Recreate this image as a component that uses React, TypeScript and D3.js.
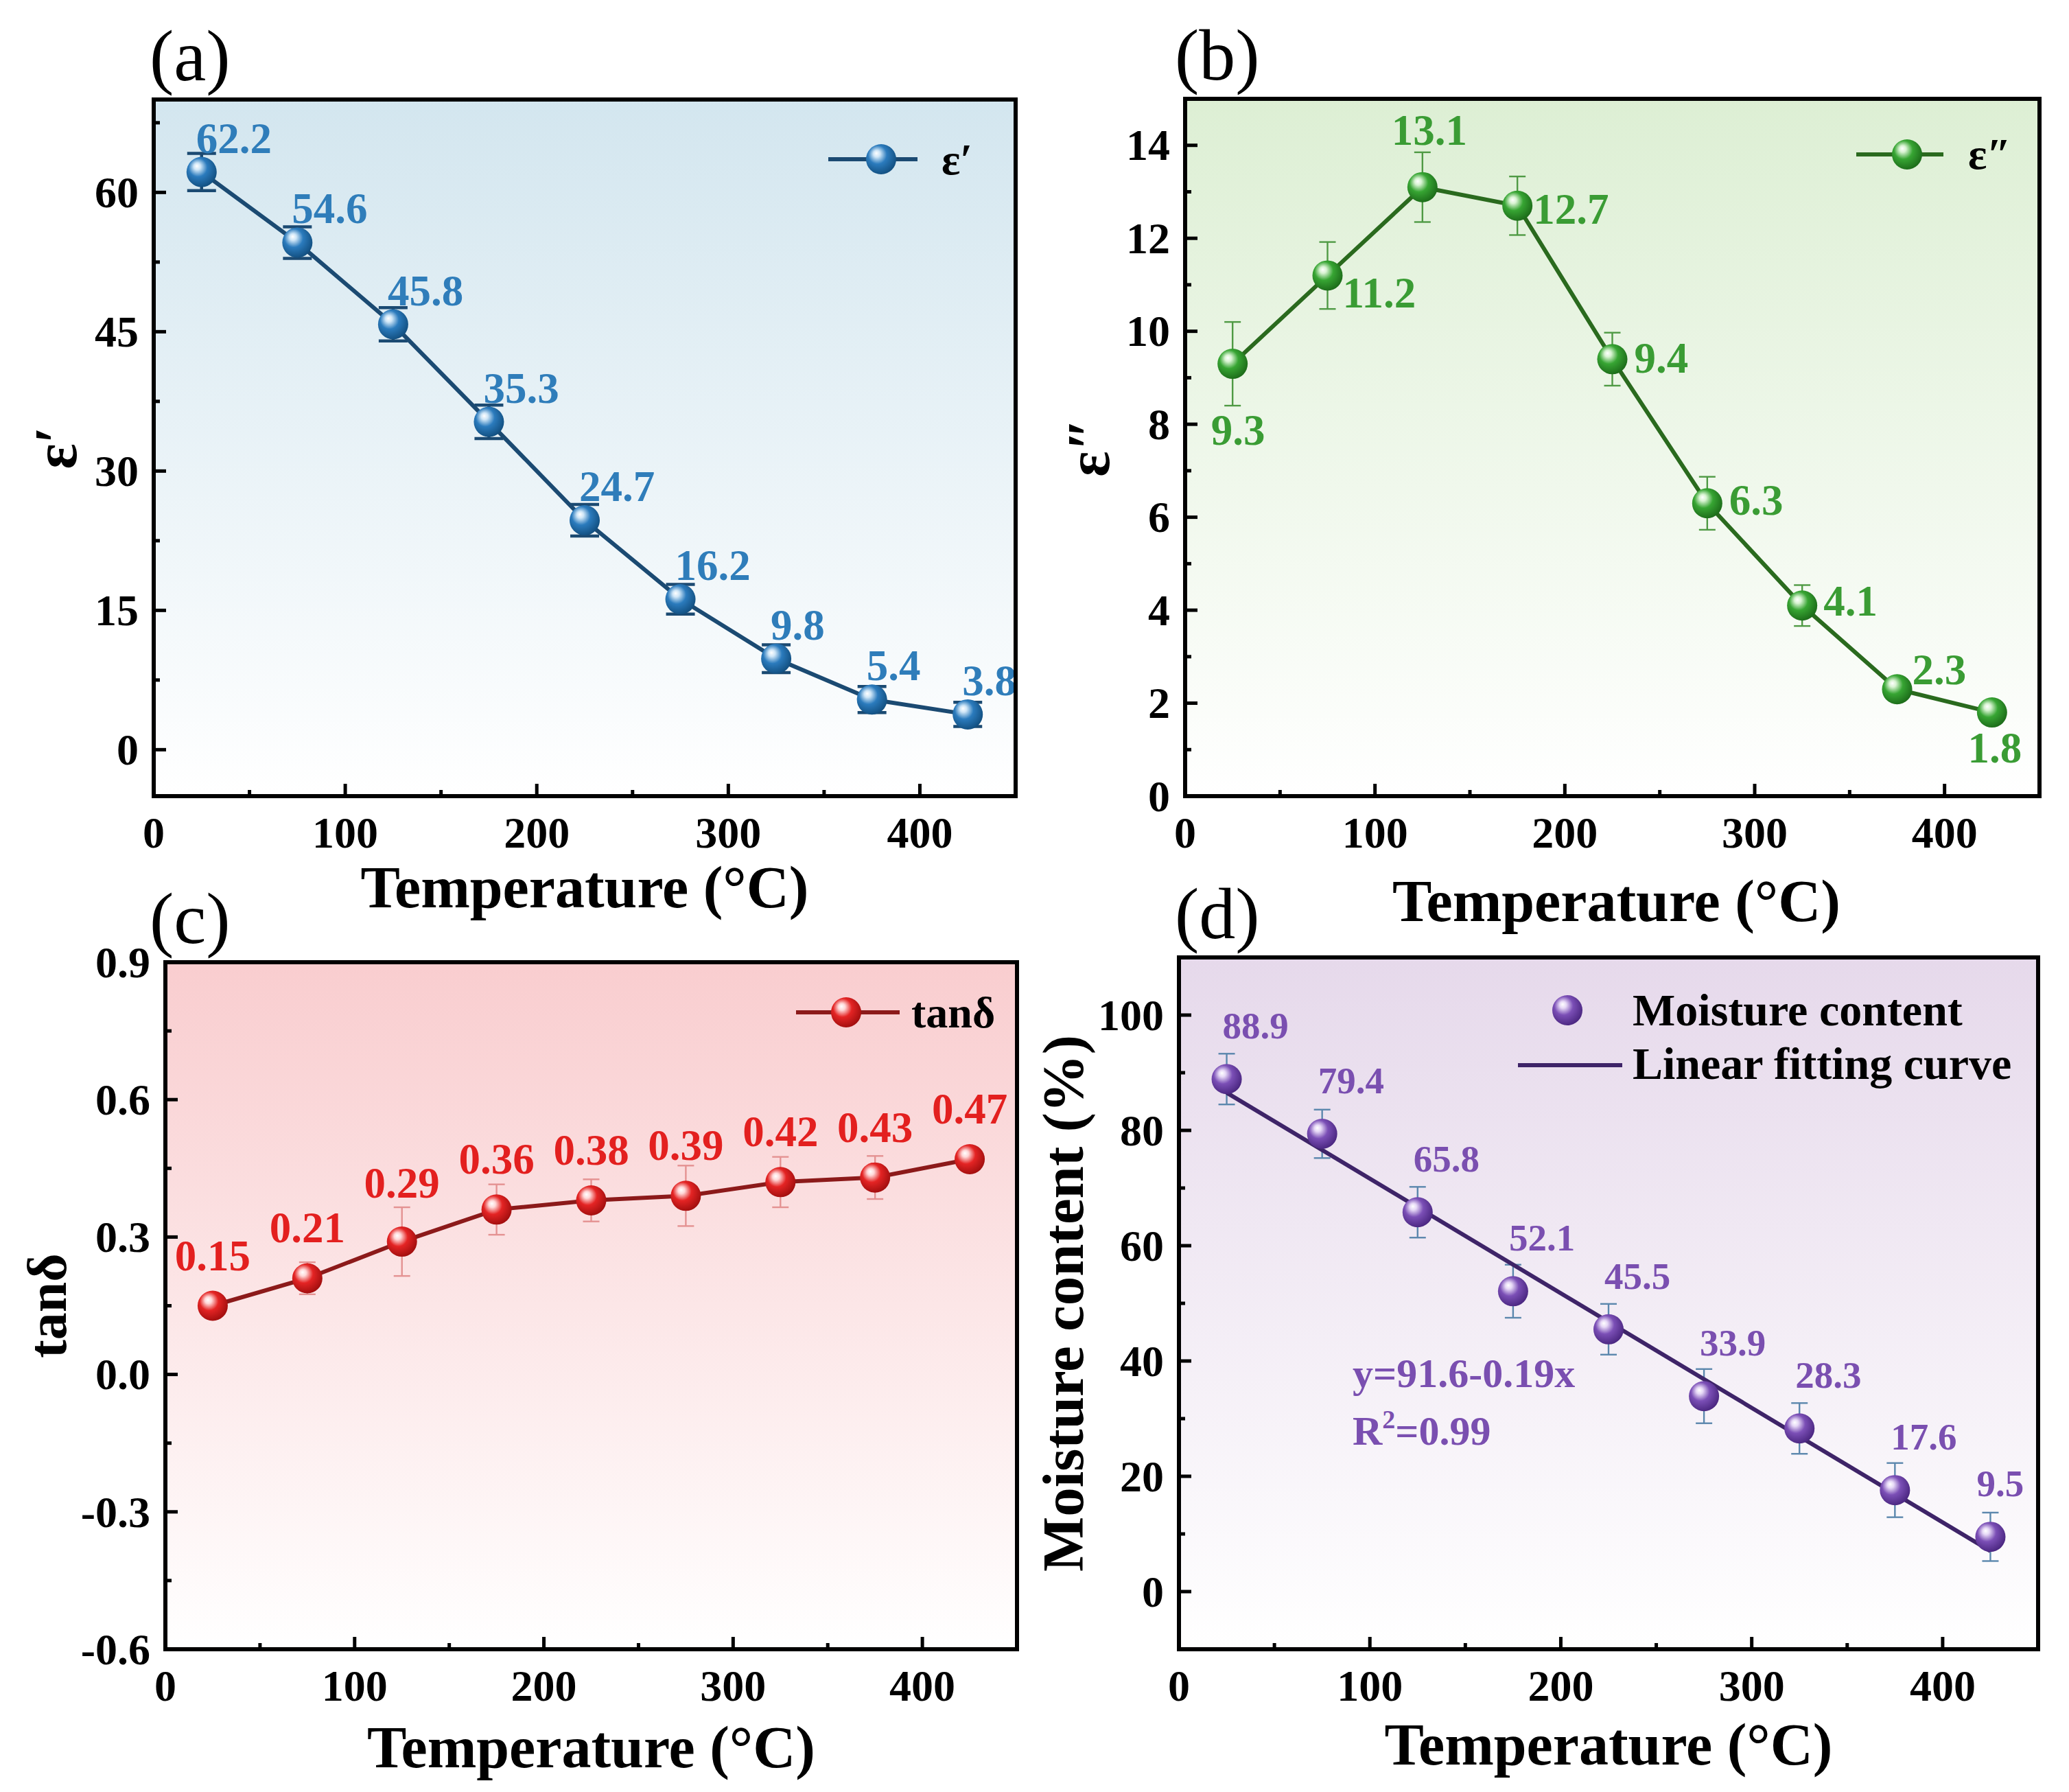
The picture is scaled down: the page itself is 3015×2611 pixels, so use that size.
import React, { useEffect, useRef } from "react";
import * as d3 from "d3";

// ---- data ----
const temperature = [25, 75, 125, 175, 225, 275, 325, 375, 425];

const epsReal = [62.2, 54.6, 45.8, 35.3, 24.7, 16.2, 9.8, 5.4, 3.8];
const epsRealErr = [2.0, 1.7, 1.8, 1.8, 1.7, 1.6, 1.5, 1.4, 1.3];

const epsImag = [9.3, 11.2, 13.1, 12.7, 9.4, 6.3, 4.1, 2.3, 1.8];
const epsImagErr = [0.9, 0.72, 0.75, 0.63, 0.57, 0.57, 0.44, 0.25, 0.15];

const tanDelta = [0.15, 0.21, 0.29, 0.36, 0.38, 0.39, 0.42, 0.43, 0.47];
const tanDeltaErr = [0.02, 0.035, 0.075, 0.055, 0.046, 0.066, 0.055, 0.047, 0.02];

const moisture = [88.9, 79.4, 65.8, 52.1, 45.5, 33.9, 28.3, 17.6, 9.5];
const moistureErr = [4.4, 4.2, 4.4, 4.6, 4.4, 4.7, 4.4, 4.7, 4.2];

const xTicks = [0, 100, 200, 300, 400];
const epsRealTicks = [0, 15, 30, 45, 60];
const epsImagTicks = [0, 2, 4, 6, 8, 10, 12, 14];
const tanDeltaTicks = [-0.6, -0.3, 0.0, 0.3, 0.6, 0.9];
const moistureTicks = [0, 20, 40, 60, 80, 100];

const W = 3015;
const H = 2611;
const FONT = "'Liberation Serif', 'Times New Roman', serif";
const DOT_R = 22;

interface Frame { left: number; top: number; right: number; bottom: number }

interface PanelSpec {
    key: string,
    tag: string,
    tagX: number,
    frame: Frame,
    yDomain: [number, number],
    yTicks: number[],
    yFormat: (v: number) => string,
    yTitle: string,
    yTitleX: number,
    yTitleSize: number,
    xTitleShift: number,
    xTitleDrop: number,
    values: number[],
    errors: number[],
    labels: string[],
    labelSize: number,
    labelPos: [number, number, string][],
    bgTop: string,
    dotLight: string,
    dotBase: string,
    dotDark: string,
    lineColor: string,
    labelColor: string,
    errColor: string,
    errWidth: number,
    capHalf: number,
    legend: { x0: number, x1: number, cx: number, y: number, tx: number, ty: number, text: string } | null,
    fit: boolean,
}

const fmt1 = (v: number) => v.toFixed(1);
const fmt0 = (v: number) => String(v);

const panels: PanelSpec[] = [
    {
        key: "a", tag: "(a)", tagX: 218,
        frame: { left: 224, top: 145, right: 1480, bottom: 1160 },
        yDomain: [-5, 70], yTicks: epsRealTicks, yFormat: fmt0,
        yTitle: "ε′", yTitleX: 80, yTitleSize: 88, xTitleShift: 0, xTitleDrop: 162,
        values: epsReal, errors: epsRealErr, labels: epsReal.map(fmt1), labelSize: 63,
        labelPos: epsReal.map(() => [-8, -28, "start"] as [number, number, string]),
        bgTop: "#d3e6ef", dotLight: "#cfe6f7", dotBase: "#2b7bbd", dotDark: "#124f80",
        lineColor: "#1b4a72", labelColor: "#2f7dba", errColor: "#1b4a72", errWidth: 4.5, capHalf: 21,
        legend: { x0: 1207, x1: 1337, cx: 1284, y: 232, tx: 1372, ty: 254, text: "ε′" },
        fit: false,
    },
    {
        key: "b", tag: "(b)", tagX: 1712,
        frame: { left: 1727, top: 144, right: 2972, bottom: 1160 },
        yDomain: [0, 15], yTicks: epsImagTicks, yFormat: fmt0,
        yTitle: "ε″", yTitleX: 1585, yTitleSize: 88, xTitleShift: 6, xTitleDrop: 182,
        values: epsImag, errors: epsImagErr, labels: epsImag.map(fmt1), labelSize: 63,
        labelPos: [[8, 118, "middle"], [22, 47, "start"], [10, -62, "middle"], [23, 26, "start"],
            [32, 20, "start"], [32, 17, "start"], [31, 15, "start"], [22, -7, "start"], [4, 73, "middle"]],
        bgTop: "#ddefd4", dotLight: "#d8f3d2", dotBase: "#37a533", dotDark: "#1c6b19",
        lineColor: "#2a6a1e", labelColor: "#3a9c34", errColor: "#4f9a44", errWidth: 2.4, capHalf: 12,
        legend: { x0: 2705, x1: 2832, cx: 2779, y: 225, tx: 2868, ty: 246, text: "ε″" },
        fit: false,
    },
    {
        key: "c", tag: "(c)", tagX: 218,
        frame: { left: 241, top: 1402, right: 1482, bottom: 2403 },
        yDomain: [-0.6, 0.9], yTicks: tanDeltaTicks, yFormat: fmt1,
        yTitle: "tanδ", yTitleX: 68, yTitleSize: 80, xTitleShift: 0, xTitleDrop: 172,
        values: tanDelta, errors: tanDeltaErr, labels: tanDelta.map((v) => v.toFixed(2)), labelSize: 63,
        labelPos: tanDelta.map((v, i) => [0, i === 2 ? -64 : -52, "middle"] as [number, number, string]),
        bgTop: "#f9cdcf", dotLight: "#ffd8d8", dotBase: "#e42424", dotDark: "#a10e0e",
        lineColor: "#8c1a1a", labelColor: "#e3201f", errColor: "#e49292", errWidth: 2.4, capHalf: 12,
        legend: { x0: 1160, x1: 1311, cx: 1233, y: 1475, tx: 1328, ty: 1497, text: "tanδ" },
        fit: false,
    },
    {
        key: "d", tag: "(d)", tagX: 1712,
        frame: { left: 1718, top: 1395, right: 2970, bottom: 2403 },
        yDomain: [-10, 110], yTicks: moistureTicks, yFormat: fmt0,
        yTitle: "Moisture content (%)", yTitleX: 1548, yTitleSize: 85, xTitleShift: 0, xTitleDrop: 168,
        values: moisture, errors: moistureErr, labels: moisture.map(fmt1), labelSize: 55,
        labelPos: moisture.map((v, i) => [i === 8 ? -20 : -6, -59, "start"] as [number, number, string]),
        bgTop: "#e6d9eb", dotLight: "#e6d8f6", dotBase: "#7b4fb6", dotDark: "#4a2680",
        lineColor: "#3e2468", labelColor: "#7a4fb0", errColor: "#5b87ad", errWidth: 2.4, capHalf: 12,
        legend: null,
        fit: true,
    },
];

function minorTicks(ticks: number[], domain: [number, number]) {
    const step = ticks[1] - ticks[0];
    const out: number[] = [];
    const lo = Math.min(domain[0], domain[1]), hi = Math.max(domain[0], domain[1]);
    for (let v = ticks[0] - step / 2; v <= hi + 1e-9; v += step) {
        if (v >= lo - 1e-9 && v <= hi + 1e-9) out.push(v);
    }
    return out;
}

function addSphere(defs: any, id: string, p: PanelSpec) {
    const g = defs.append("radialGradient").attr("id", id)
        .attr("cx", "0.42").attr("cy", "0.40").attr("r", "0.62")
        .attr("fx", "0.34").attr("fy", "0.30");
    g.append("stop").attr("offset", "0").attr("stop-color", "#ffffff");
    g.append("stop").attr("offset", "0.18").attr("stop-color", p.dotLight);
    g.append("stop").attr("offset", "0.5").attr("stop-color", p.dotBase);
    g.append("stop").attr("offset", "1").attr("stop-color", p.dotDark);
}

function drawPanel(svg: any, defs: any, p: PanelSpec) {
    const f = p.frame;
    const x = d3.scaleLinear().domain([0, 450]).range([f.left, f.right]);
    const y = d3.scaleLinear().domain(p.yDomain).range([f.bottom, f.top]);
    const g = svg.append("g").attr("class", "panel-" + p.key);

    // background gradient
    const bgId = "bg-" + p.key;
    const lg = defs.append("linearGradient").attr("id", bgId)
        .attr("x1", 0).attr("y1", 0).attr("x2", 0).attr("y2", 1);
    lg.append("stop").attr("offset", "0").attr("stop-color", p.bgTop);
    lg.append("stop").attr("offset", "1").attr("stop-color", "#ffffff");
    g.append("rect")
        .attr("x", f.left).attr("y", f.top)
        .attr("width", f.right - f.left).attr("height", f.bottom - f.top)
        .attr("fill", `url(#${bgId})`);

    const dotId = "dot-" + p.key;
    addSphere(defs, dotId, p);

    // ticks (inward, left + bottom only)
    const ticks = g.append("g").attr("stroke", "#000");
    xTicks.forEach((t) => {
        ticks.append("line").attr("x1", x(t)).attr("x2", x(t))
            .attr("y1", f.bottom).attr("y2", f.bottom - 18).attr("stroke-width", 5);
    });
    minorTicks(xTicks, [0, 450]).forEach((t) => {
        ticks.append("line").attr("x1", x(t)).attr("x2", x(t))
            .attr("y1", f.bottom).attr("y2", f.bottom - 9).attr("stroke-width", 5);
    });
    p.yTicks.forEach((t) => {
        ticks.append("line").attr("x1", f.left).attr("x2", f.left + 18)
            .attr("y1", y(t)).attr("y2", y(t)).attr("stroke-width", 5);
    });
    minorTicks(p.yTicks, p.yDomain).forEach((t) => {
        ticks.append("line").attr("x1", f.left).attr("x2", f.left + 9)
            .attr("y1", y(t)).attr("y2", y(t)).attr("stroke-width", 5);
    });

    // tick labels
    const tl = g.append("g").attr("font-family", FONT).attr("font-weight", "bold")
        .attr("font-size", 64).attr("fill", "#000");
    xTicks.forEach((t) => {
        tl.append("text").attr("x", x(t)).attr("y", f.bottom + 75)
            .attr("text-anchor", "middle").text(String(t));
    });
    p.yTicks.forEach((t) => {
        tl.append("text").attr("x", f.left - 22).attr("y", y(t))
            .attr("dy", "0.34em").attr("text-anchor", "end").text(p.yFormat(t));
    });

    // axis titles
    g.append("text")
        .attr("x", (f.left + f.right) / 2 + p.xTitleShift).attr("y", f.bottom + p.xTitleDrop)
        .attr("text-anchor", "middle").attr("font-family", FONT).attr("font-weight", "bold")
        .attr("font-size", 86).text("Temperature (°C)");
    g.append("text")
        .attr("transform", `translate(${p.yTitleX},${(f.top + f.bottom) / 2}) rotate(-90)`)
        .attr("text-anchor", "middle").attr("dy", "0.35em").attr("font-family", FONT)
        .attr("font-weight", "bold").attr("font-size", p.yTitleSize).text(p.yTitle);

    // panel tag
    g.append("text").attr("x", p.tagX).attr("y", f.top - 28)
        .attr("font-family", FONT).attr("font-size", 106).text(p.tag);

    const pts = temperature.map((t, i) => ({ t, v: p.values[i], e: p.errors[i], label: p.labels[i], pos: p.labelPos[i] }));

    // error bars
    const eb = g.append("g").attr("stroke", p.errColor).attr("stroke-width", p.errWidth);
    pts.forEach((d) => {
        eb.append("line").attr("x1", x(d.t)).attr("x2", x(d.t))
            .attr("y1", y(d.v - d.e)).attr("y2", y(d.v + d.e));
        [d.v - d.e, d.v + d.e].forEach((v) => {
            eb.append("line").attr("x1", x(d.t) - p.capHalf).attr("x2", x(d.t) + p.capHalf)
                .attr("y1", y(v)).attr("y2", y(v));
        });
    });

    // connecting line or least-squares fit
    if (p.fit) {
        const mx = d3.mean(temperature) as number;
        const my = d3.mean(p.values) as number;
        const slope = d3.sum(temperature, (t, i) => (t - mx) * (p.values[i] - my)) /
            d3.sum(temperature, (t) => (t - mx) * (t - mx));
        const icpt = my - slope * mx;
        const ends = [temperature[0], temperature[temperature.length - 1]];
        g.append("path")
            .attr("d", d3.line<number>().x((t) => x(t)).y((t) => y(icpt + slope * t))(ends))
            .attr("fill", "none").attr("stroke", p.lineColor).attr("stroke-width", 6);
    } else {
        g.append("path")
            .attr("d", d3.line<any>().x((d) => x(d.t)).y((d) => y(d.v))(pts))
            .attr("fill", "none").attr("stroke", p.lineColor).attr("stroke-width", 6);
    }

    // markers
    pts.forEach((d) => {
        g.append("circle").attr("cx", x(d.t)).attr("cy", y(d.v)).attr("r", DOT_R)
            .attr("fill", `url(#${dotId})`);
    });

    // value labels
    const vl = g.append("g").attr("font-family", FONT).attr("font-weight", "bold")
        .attr("font-size", p.labelSize).attr("fill", p.labelColor);
    pts.forEach((d) => {
        vl.append("text").attr("x", x(d.t) + d.pos[0]).attr("y", y(d.v) + d.pos[1])
            .attr("text-anchor", d.pos[2]).text(d.label);
    });

    // legend
    if (p.legend) {
        const L = p.legend;
        g.append("line").attr("x1", L.x0).attr("x2", L.x1).attr("y1", L.y).attr("y2", L.y)
            .attr("stroke", p.lineColor).attr("stroke-width", 6);
        g.append("circle").attr("cx", L.cx).attr("cy", L.y).attr("r", DOT_R).attr("fill", `url(#${dotId})`);
        g.append("text").attr("x", L.tx).attr("y", L.ty).attr("font-family", FONT)
            .attr("font-weight", "bold").attr("font-size", 64).text(L.text);
    } else {
        const lt = g.append("g").attr("font-family", FONT).attr("font-weight", "bold").attr("font-size", 66);
        g.append("circle").attr("cx", 2284).attr("cy", 1472).attr("r", DOT_R).attr("fill", `url(#${dotId})`);
        lt.append("text").attr("x", 2379).attr("y", 1494).text("Moisture content");
        g.append("line").attr("x1", 2212).attr("x2", 2364).attr("y1", 1552).attr("y2", 1552)
            .attr("stroke", p.lineColor).attr("stroke-width", 6);
        lt.append("text").attr("x", 2379).attr("y", 1572).text("Linear fitting curve");

        const eq = g.append("g").attr("font-family", FONT).attr("font-weight", "bold")
            .attr("font-size", 60).attr("fill", p.labelColor);
        eq.append("text").attr("x", 1971).attr("y", 2021).text("y=91.6-0.19x");
        const r2 = eq.append("text").attr("x", 1971).attr("y", 2105);
        r2.append("tspan").text("R");
        r2.append("tspan").attr("dy", -24).attr("font-size", 38).text("2");
        r2.append("tspan").attr("dy", 24).text("=0.99");
    }

    // frame on top
    g.append("rect")
        .attr("x", f.left).attr("y", f.top)
        .attr("width", f.right - f.left).attr("height", f.bottom - f.top)
        .attr("fill", "none").attr("stroke", "#000").attr("stroke-width", 6);
}

export default function App() {
    const ref = useRef<SVGSVGElement | null>(null);

    useEffect(() => {
        const svg = d3.select(ref.current);
        svg.selectAll("*").remove();
        svg.append("rect").attr("width", W).attr("height", H).attr("fill", "#fff");
        const defs = svg.append("defs");
        panels.forEach((p) => drawPanel(svg, defs, p));
    }, []);

    return (
        <svg ref={ref} width={W} height={H} viewBox={`0 0 ${W} ${H}`}
            style={{ position: "absolute", left: 0, top: 0, display: "block" }} />
    );
}
